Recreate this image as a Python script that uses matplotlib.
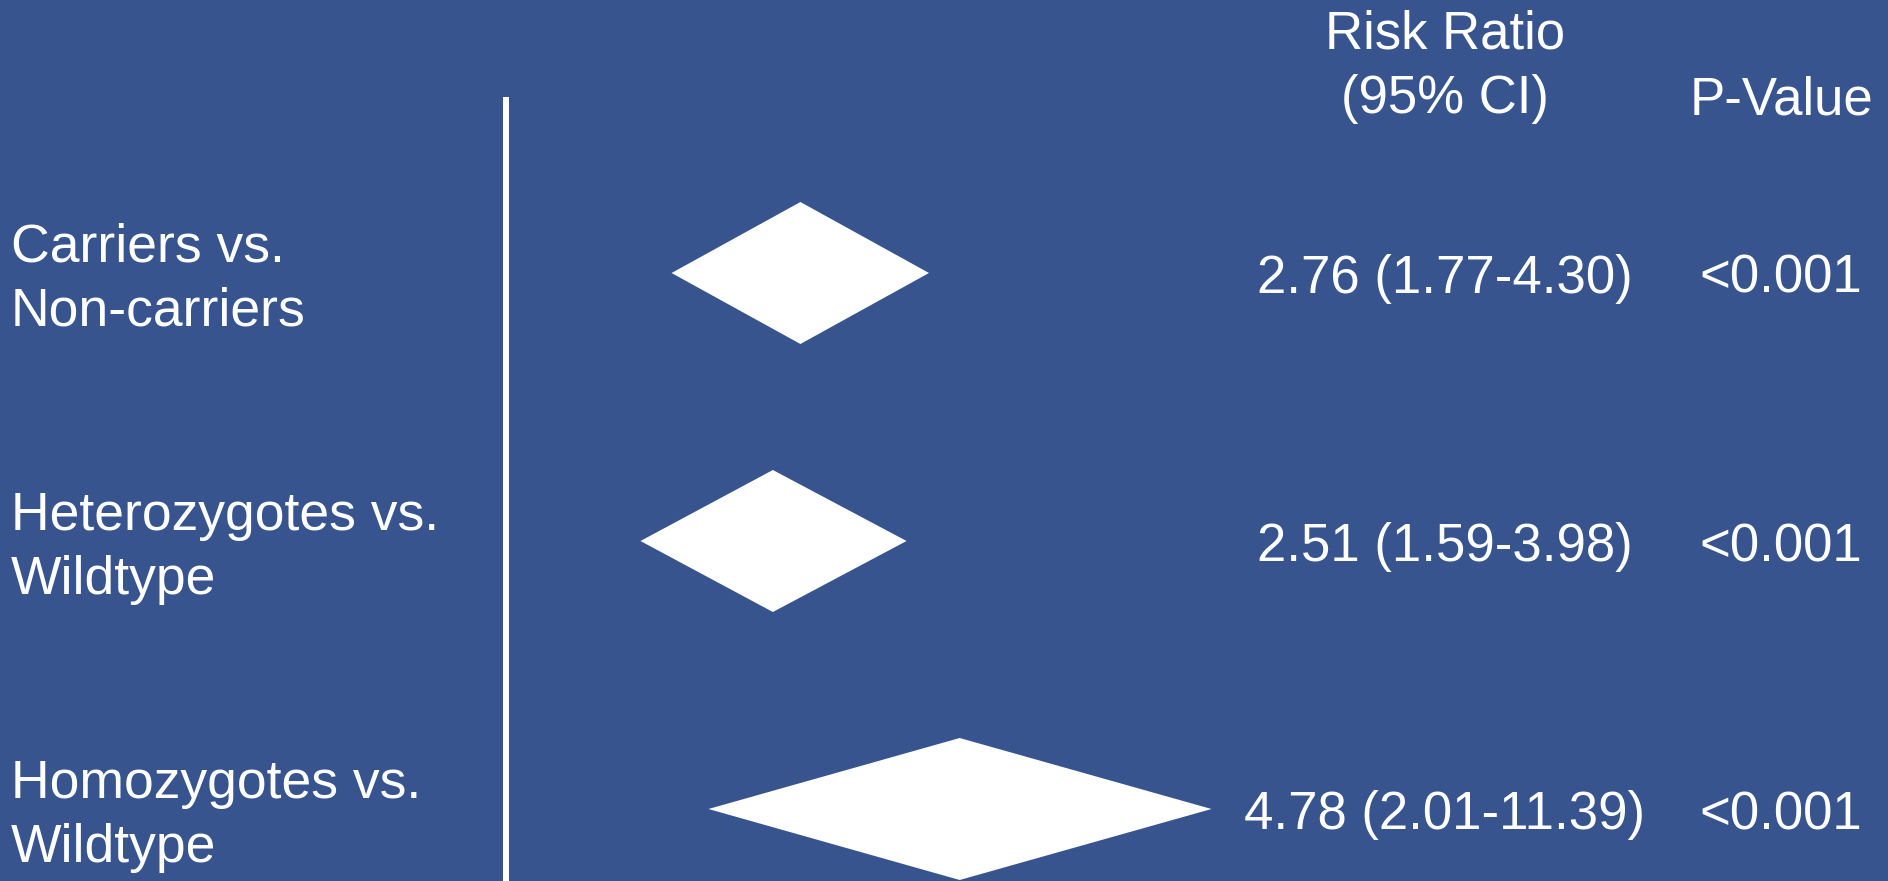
import numpy as np
import matplotlib
matplotlib.use("Agg")
import matplotlib.pyplot as plt
from matplotlib.patches import Polygon
from matplotlib.transforms import blended_transform_factory

# Pooled risk ratios for each genotype comparison
comparisons = ["Carriers vs.\nNon-carriers",
               "Heterozygotes vs.\nWildtype",
               "Homozygotes vs.\nWildtype"]
risk_ratio = [2.76, 2.51, 4.78]
ci_lower = [1.77, 1.59, 2.01]
ci_upper = [4.30, 3.98, 11.39]
p_values = ["<0.001", "<0.001", "<0.001"]
header_rr = ["Risk Ratio", "(95% CI)"]
header_p = "P-Value"

W, H = 1888, 881
BG = "#37548F"
FG = "white"
FONT = ["Liberation Sans", "DejaVu Sans"]

fig = plt.figure(figsize=(W / 100, H / 100), dpi=100, facecolor=BG)
ax = fig.add_axes([0, 0, 1, 1])
ax.set_facecolor(BG)
ax.axis("off")

# log-scaled effect axis: null line at 506 px, 290 px per natural-log unit
x_null_px, px_per_ln = 506, 290
ax.set_xscale("log")
ax.set_xlim(np.exp(-x_null_px / px_per_ln), np.exp((W - x_null_px) / px_per_ln))

# one unit per row, first row centred 273 px from the top
row0_px, row_step_px = 273, 268
ax.set_ylim((H - row0_px) / row_step_px, -row0_px / row_step_px)


def px_to_row(px):
    return (px - row0_px) / row_step_px


# reference line at RR = 1
ax.axvline(1.0, ymin=0, ymax=1 - 97 / H, color=FG, lw=4.3,
           solid_capstyle="butt", zorder=2)

# summary diamonds
half_h = 71 / row_step_px
for i, (lo, est, hi) in enumerate(zip(ci_lower, risk_ratio, ci_upper)):
    diamond = Polygon([(lo, i), (est, i - half_h), (hi, i), (est, i + half_h)],
                      closed=True, facecolor=FG, edgecolor="none", zorder=3)
    ax.add_patch(diamond)

tr = blended_transform_factory(ax.transAxes, ax.transData)
label_x = 11 / W
rr_x = 1445 / W
p_x = 1781 / W
label_size = 38.5
col_size = 38
line_step = 64 / row_step_px
text_base = 20 / row_step_px

# column headers
ax.text(rr_x, px_to_row(49), header_rr[0], transform=tr, ha="center",
        va="baseline", color=FG, fontsize=col_size, family=FONT)
ax.text(rr_x, px_to_row(113), header_rr[1], transform=tr, ha="center",
        va="baseline", color=FG, fontsize=col_size, family=FONT)
ax.text(p_x, px_to_row(115), header_p, transform=tr, ha="center",
        va="baseline", color=FG, fontsize=col_size, family=FONT)

for i, name in enumerate(comparisons):
    lines = name.split("\n")
    first = i - 11 / row_step_px
    for k, line in enumerate(lines):
        ax.text(label_x, first + k * line_step, line, transform=tr, ha="left",
                va="baseline", color=FG, fontsize=label_size, family=FONT)
    rr_text = f"{risk_ratio[i]:.2f} ({ci_lower[i]:.2f}-{ci_upper[i]:.2f})"
    ax.text(rr_x, i + text_base, rr_text, transform=tr, ha="center",
            va="baseline", color=FG, fontsize=col_size, family=FONT)
    ax.text(p_x, i + text_base, p_values[i], transform=tr, ha="center",
            va="baseline", color=FG, fontsize=col_size, family=FONT)

fig.savefig("out.png", dpi=100, facecolor=BG)
